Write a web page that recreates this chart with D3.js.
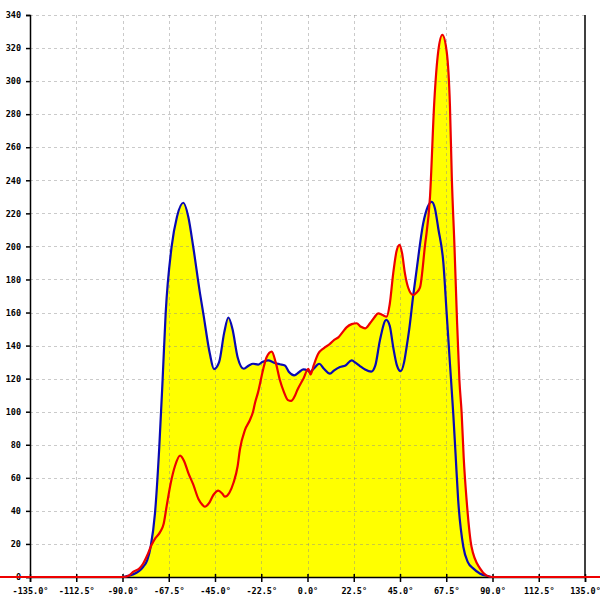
<!DOCTYPE html>
<html>
<head>
<meta charset="utf-8">
<script src="https://cdn.jsdelivr.net/npm/d3@7"></script>
<style>
  html, body { margin: 0; padding: 0; background: #fff; }
  svg { display: block; }
  .tick text { font-family: "DejaVu Sans Mono", monospace; font-weight: bold; font-size: 8.5px; fill: #000; }
</style>
</head>
<body>
<svg id="chart" width="600" height="600"></svg>
<script>
// ---- data ----
const blueAngles = [-180, -90, -88, -85, -82, -79.9, -78, -76.3, -74.2, -72.1, -70.5, -69, -66.1, -63.5, -60.4, -58, -55.6, -52.3, -50.7, -47.5, -45.5, -43, -40.5, -38.5, -36.5, -34, -31, -28.5, -26.5, -24, -22, -19.2, -16, -13.4, -11, -9, -6.5, -4, -2, 0, 1.2, 3, 5.7, 8, 10.9, 13, 15.8, 18.5, 21.5, 23.5, 25.5, 28, 31, 33, 35.2, 38.3, 40, 41.7, 43.5, 45.3, 47, 48.2, 49.5, 51.4, 53.1, 56.3, 58.5, 60.4, 62, 63.6, 66.1, 67.7, 69.3, 70.9, 72, 73.3, 75.8, 78, 80.6, 84, 88, 90, 180];
const blueValues = [0, 0, 0.5, 1.5, 3.5, 6.2, 10, 18.3, 38.5, 78.8, 119, 159.5, 199.8, 218, 226.4, 218, 199.8, 171.6, 159.5, 135, 125.8, 130, 148, 157, 150, 133, 126, 128, 129, 128.5, 130, 131, 129.5, 128.7, 128, 124, 122, 124, 125.6, 125, 124, 126, 129, 126, 123, 125, 127, 128, 131, 129.5, 127.6, 125.5, 124.2, 128, 143, 155.5, 152, 139, 128, 124.5, 130, 139, 150, 170, 186, 214, 224, 227, 223, 211, 190, 159.5, 129, 99, 75, 46.6, 18.3, 9, 5.2, 2, 0.5, 0, 0];

const redAngles = [-180, -90, -87, -84.7, -82, -80, -78, -76, -74, -71.8, -70, -68.5, -66.5, -64.5, -62, -60, -58, -55.6, -53, -51, -49.9, -48, -45.8, -43.4, -41.5, -40.2, -38, -36, -34, -32.9, -30.4, -28, -26.5, -25.6, -24, -21.5, -19.9, -17.4, -15.5, -13.4, -11.5, -9.5, -8, -6, -5, -2, 0.4, 1.5, 3, 5.2, 8, 10.9, 13, 15, 17, 19, 21.5, 23.9, 26, 28, 30.4, 32.5, 34.4, 36.5, 38.5, 40, 41.7, 43.3, 44.8, 46, 47.4, 49, 51.4, 53, 54.7, 57.1, 59.6, 61.7, 63.6, 65.6, 67.7, 69.3, 70.2, 71.5, 72.6, 73.9, 75, 76, 77.4, 79.8, 83.9, 87, 90, 180];
const redValues = [0, 0, 0.8, 3.2, 5, 8, 13, 19, 23.5, 27, 32, 43, 57, 67, 73.4, 70, 63, 56, 47, 43.5, 42.5, 44.5, 49.6, 52.2, 50.5, 48.6, 51, 57, 67, 77, 89, 95, 100, 105, 112, 126, 133, 136.3, 130, 119, 112, 107, 106.5, 110, 113, 120, 126, 122.5, 128, 135, 138.5, 141, 143.5, 145, 148, 151, 153, 153.5, 151.4, 150.4, 153.5, 157, 159.5, 158.5, 157.5, 165, 183.7, 197, 201, 196, 183.7, 175, 170.6, 172, 175, 200, 230, 288, 318, 328, 318, 285, 242, 200, 160, 119, 99, 72, 46.6, 18.3, 5.2, 1, 0, 0];

const xTicks = [-135, -112.5, -90, -67.5, -45, -22.5, 0, 22.5, 45, 67.5, 90, 112.5, 135];
const yTicks = [0, 20, 40, 60, 80, 100, 120, 140, 160, 180, 200, 220, 240, 260, 280, 300, 320, 340];

// ---- layout ----
const svg = d3.select("#chart");
const x = d3.scaleLinear().domain([-135, 135]).range([30, 585]);
const y = d3.scaleLinear().domain([0, 340]).range([577, 15]);

const blue = blueAngles.map((a, i) => ({a, v: blueValues[i]}));
const red = redAngles.map((a, i) => ({a, v: redValues[i]}));

const area = d3.area().x(d => x(d.a)).y0(y(0)).y1(d => y(d.v)).curve(d3.curveMonotoneX);
const line = d3.line().x(d => x(d.a)).y(d => y(d.v)).curve(d3.curveMonotoneX);

// fills
svg.append("path").datum(blue).attr("d", area).attr("fill", "#ffff00");
svg.append("path").datum(red).attr("d", area).attr("fill", "#ffff00");

// grid
const grid = svg.append("g").attr("stroke", "#8a8a8a").attr("stroke-opacity", 0.45)
  .attr("stroke-dasharray", "3,3").attr("stroke-width", 1);
grid.selectAll("line.h").data(yTicks.filter(t => t > 0)).join("line")
  .attr("x1", x(-135)).attr("x2", x(135))
  .attr("y1", d => Math.round(y(d)) + 0.5).attr("y2", d => Math.round(y(d)) + 0.5);
grid.selectAll("line.v").data(xTicks.filter(t => t > -135 && t < 135)).join("line")
  .attr("y1", y(340)).attr("y2", y(0))
  .attr("x1", d => Math.round(x(d)) + 0.5).attr("x2", d => Math.round(x(d)) + 0.5);

// axes
const yAxis = svg.append("g").attr("transform", `translate(${x(-135)},0)`)
  .call(d3.axisLeft(y).tickValues(yTicks).tickSize(4).tickPadding(5).tickFormat(d3.format("d")));
yAxis.select(".domain").attr("stroke", "#000").attr("stroke-width", 1.5);
yAxis.selectAll(".tick line").attr("stroke", "#000").attr("stroke-width", 1.5);

const xAxis = svg.append("g").attr("transform", `translate(0,${y(0)})`)
  .call(d3.axisBottom(x).tickValues(xTicks).tickSize(5).tickPadding(6).tickFormat(d => d.toFixed(1) + "°"));
xAxis.select(".domain").attr("stroke", "#000").attr("stroke-width", 1.5);
xAxis.selectAll(".tick line").attr("stroke", "#000").attr("stroke-width", 1.5).attr("y1", -3);

// right border
svg.append("line").attr("x1", x(135)).attr("x2", x(135)).attr("y1", y(340)).attr("y2", y(0))
  .attr("stroke", "#000").attr("stroke-width", 1.5);

// lines
svg.append("path").datum(blue).attr("d", line).attr("fill", "none")
  .attr("stroke", "#0a0ab4").attr("stroke-width", 2.2).attr("stroke-linejoin", "round");
svg.append("path").datum(red).attr("d", line).attr("fill", "none")
  .attr("stroke", "#ee0000").attr("stroke-width", 2.2).attr("stroke-linejoin", "round");
</script>
</body>
</html>
